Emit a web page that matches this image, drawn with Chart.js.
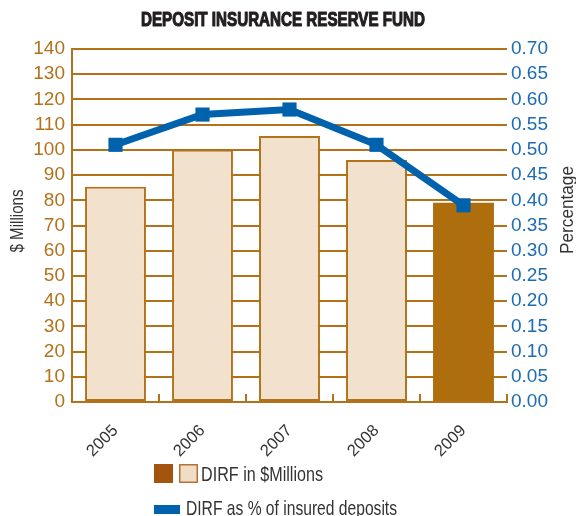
<!DOCTYPE html>
<html>
<head>
<meta charset="utf-8">
<script src="https://cdn.jsdelivr.net/npm/chart.js@4"></script>
<style>
  html, body { margin: 0; padding: 0; background: #fff; }
  #wrap { position: relative; width: 576px; height: 516px; }
</style>
</head>
<body>
<div id="wrap"><canvas id="dirfChart" width="576" height="516"></canvas></div>
<script>
// data
const years = ["2005", "2006", "2007", "2008", "2009"];
const dirfMillions = [85.4, 100, 105.5, 96, 79];
const dirfPercent = [0.51, 0.57, 0.58, 0.51, 0.39];
const leftTicks = [0, 140, 10];      // min, max, step
const rightTicks = [0, 0.7, 0.05];

const BROWN = "#B3711A";
const BAR_LIGHT = "#F2E2CD";
const BAR_DARK = "#AF6E0E";
const BLUE = "#0062AC";
const TEXT = "#333333";
const SANS = "'Liberation Sans', Arial, sans-serif";

// squeezed text (condensed look) with maxWidth
function narrowText(ctx, str, x, y, size, maxW, bold) {
  ctx.font = (bold ? "bold " : "") + size + "px " + SANS;
  ctx.fillText(str, x, y, maxW);
}

// title, axis captions and legend
const extras = {
  id: "extras",
  afterDraw(chart) {
    const ctx = chart.ctx;
    ctx.save();

    // heavy condensed heading: fill plus a thin stroke
    ctx.fillStyle = "#231F20";
    ctx.strokeStyle = "#231F20";
    ctx.lineWidth = 1.1;
    ctx.lineJoin = "round";
    ctx.textAlign = "center";
    ctx.textBaseline = "alphabetic";
    narrowText(ctx, "DEPOSIT INSURANCE RESERVE FUND", 283, 25.5, 19.5, 284, true);
    ctx.strokeText("DEPOSIT INSURANCE RESERVE FUND", 283, 25.5, 284);

    ctx.fillStyle = TEXT;
    ctx.textBaseline = "middle";
    ctx.save();
    ctx.translate(18, 221);
    ctx.rotate(-Math.PI / 2);
    narrowText(ctx, "$ Millions", 0, 0, 18, 63);
    ctx.restore();

    ctx.save();
    ctx.translate(568, 210);
    ctx.rotate(-Math.PI / 2);
    narrowText(ctx, "Percentage", 0, 0, 19, 88);
    ctx.restore();

    // legend
    ctx.fillStyle = "#A3540F";
    ctx.fillRect(154, 464, 19, 19);
    ctx.fillStyle = "#F0DDC8";
    ctx.fillRect(179, 464, 19, 19);
    ctx.strokeStyle = "#B8702F";
    ctx.lineWidth = 1.5;
    ctx.strokeRect(179.75, 464.75, 17.5, 17.5);
    ctx.fillStyle = BLUE;
    ctx.fillRect(154, 505, 26, 9);

    ctx.fillStyle = TEXT;
    ctx.textAlign = "left";
    ctx.textBaseline = "middle";
    narrowText(ctx, "DIRF in $Millions", 201, 475, 21, 122);
    narrowText(ctx, "DIRF as % of insured deposits", 186, 509, 21, 211);
    ctx.restore();
  },
};

new Chart(document.getElementById("dirfChart"), {
  data: {
    labels: years,
    datasets: [
      {
        type: "line",
        label: "DIRF as % of insured deposits",
        data: dirfPercent,
        yAxisID: "y1",
        borderColor: BLUE,
        backgroundColor: BLUE,
        borderWidth: 7,
        pointStyle: "rect",
        pointRadius: 10,
        pointBorderWidth: 0,
        tension: 0,
        order: 0,
      },
      {
        type: "bar",
        label: "DIRF in $Millions",
        data: dirfMillions,
        yAxisID: "y",
        backgroundColor: years.map((y, i) => (i === years.length - 1 ? BAR_DARK : BAR_LIGHT)),
        borderColor: BROWN,
        borderWidth: years.map((y, i) => (i === years.length - 1 ? 0 : 2)),
        borderSkipped: false,
        categoryPercentage: 1,
        barPercentage: 0.7,
        order: 1,
      },
    ],
  },
  options: {
    responsive: false,
    animation: false,
    layout: { padding: { top: 49, left: 0, right: 0, bottom: 0 } },
    plugins: {
      legend: { display: false },
      tooltip: { enabled: false },
    },
    scales: {
      x: {
        offset: true,
        grid: {
          offset: true,
          drawOnChartArea: false,
          drawTicks: true,
          tickLength: -8,
          color: BROWN,
          lineWidth: 2,
        },
        border: { display: true, color: BROWN, width: 2 },
        ticks: {
          autoSkip: false,
          minRotation: 45,
          maxRotation: 45,
          padding: 27,
          color: TEXT,
          font: { family: SANS, size: 16.5 },
        },
        afterFit(scale) { scale.height = 114; },
      },
      y: {
        position: "left",
        min: leftTicks[0],
        max: leftTicks[1],
        grid: { color: BROWN, lineWidth: 2, drawTicks: false },
        border: { display: true, color: BROWN, width: 2 },
        ticks: {
          autoSkip: false,
          stepSize: leftTicks[2],
          padding: 7,
          color: BROWN,
          font: { family: SANS, size: 19 },
        },
        afterFit(scale) { scale.width = 72; },
      },
      y1: {
        position: "right",
        min: rightTicks[0],
        max: rightTicks[1],
        grid: { display: false, drawTicks: false },
        border: { display: false },
        ticks: {
          autoSkip: false,
          stepSize: rightTicks[2],
          padding: 4,
          color: "#1D6BB3",
          font: { family: SANS, size: 19 },
          callback: (v) => Number(v).toFixed(2),
        },
        afterFit(scale) { scale.width = 69; },
      },
    },
  },
  plugins: [extras],
});
</script>
</body>
</html>
